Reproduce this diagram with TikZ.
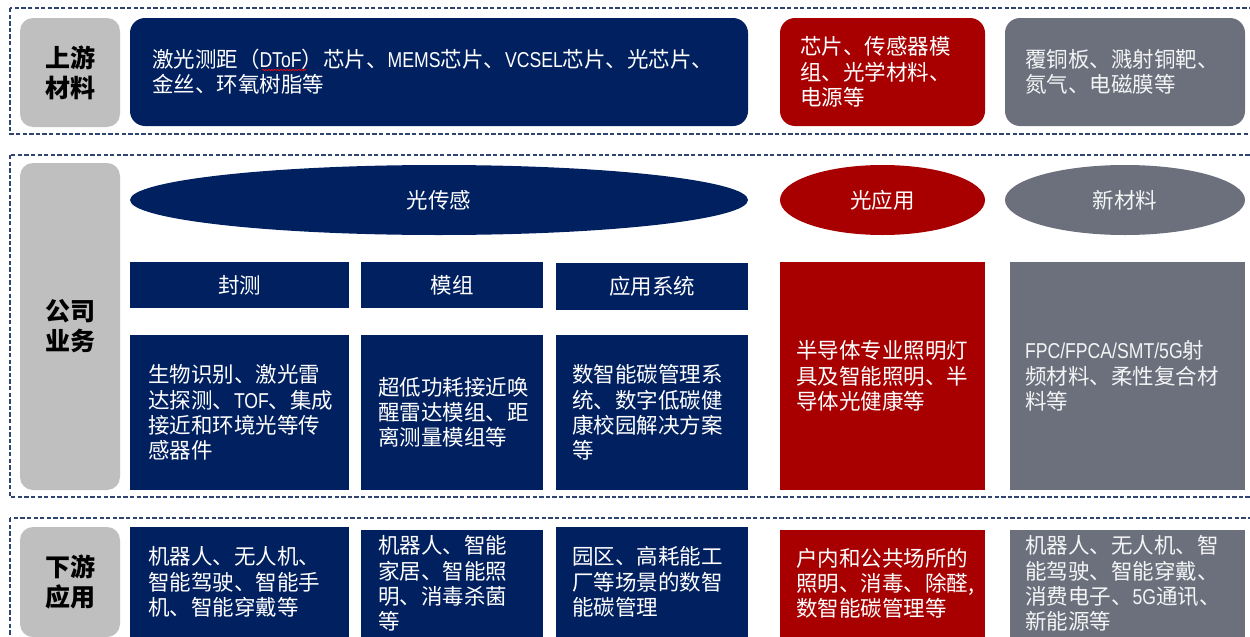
\documentclass[tikz,border=0pt]{standalone}
\usepackage{fontspec}
\setmainfont{Noto Sans CJK SC}
\newfontfamily\latfont[FakeStretch=0.82]{Liberation Sans}
\newcommand\lat[1]{{\latfont #1}}
\usetikzlibrary{shapes.geometric,decorations.pathmorphing}
\definecolor{navy}{HTML}{002060}
\definecolor{dred}{HTML}{A80000}
\definecolor{slate}{HTML}{6C707C}
\definecolor{lgray}{HTML}{BFBFBF}
\definecolor{frm}{HTML}{2F4470}
\tikzset{
  frame/.style={draw=frm, line width=1.2pt, dash pattern=on 4.3pt off 2.3pt},
  lbl/.style={fill=lgray, rounded corners=13pt, inner sep=0pt, align=center,
    font=\fontsize{25}{30}\selectfont\bfseries, text=black},
  shp/.style 2 args={inner sep=0pt, minimum width=#1, minimum height=#2},
  txt/.style={anchor=west, align=left, inner sep=0pt, text=white,
    font=\fontsize{21.5}{25.3}\selectfont},
  ctxt/.style={align=center, inner sep=0pt, text=white,
    font=\fontsize{21.5}{25.3}\selectfont},
}
\begin{document}
\begin{tikzpicture}[x=1pt,y=-1pt]
\clip (0,0) rectangle (1250,637);
\fill[white] (0,0) rectangle (1250,637);
% frames
\draw[frame] (10,8) rectangle (1258,134);
\draw[frame] (10,155) rectangle (1258,497);
\draw[frame] (10,518) rectangle (1258,660);
% labels
\node[lbl, shp={100pt}{109pt}] (lab1) at (70,72.5) {上游\\材料};
\node[lbl, shp={100pt}{327pt}] (lab2) at (70,326.5) {公司\\业务};
\node[lbl, shp={100pt}{110pt}] (lab3) at (70,582) {下游\\应用};
% top row
\node[fill=navy, rounded corners=15pt, shp={618pt}{108pt}] (t1) at (439,72) {};
\node[fill=dred, rounded corners=15pt, shp={205pt}{108pt}] (t2) at (882.5,72) {};
\node[fill=slate, rounded corners=15pt, shp={240pt}{108pt}] (t3) at (1125,72) {};
\node[txt] (t1t) at ([xshift=22pt]t1.west) {激光测距（\lat{DToF}）芯片、\lat{MEMS}芯片、\lat{VCSEL}芯片、光芯片、\\金丝、环氧树脂等};
\node[txt] (t2t) at ([xshift=20pt]t2.west) {芯片、传感器模\\组、光学材料、\\电源等};
\node[txt, text=white!92!slate] (t3t) at ([xshift=20pt]t3.west) {覆铜板、溅射铜靶、\\氮气、电磁膜等};
\draw[red, line width=0.6pt, decorate, decoration={snake, amplitude=0.8pt, segment length=3pt}] (262,70) -- (306,70);
% middle row
\node[ellipse, fill=navy, shp={618pt}{70pt}] (e1) at (439,200) {};
\node[ellipse, fill=dred, shp={205pt}{70pt}] (e2) at (882.5,200) {};
\node[ellipse, fill=slate, shp={240pt}{70pt}] (e3) at (1125,200) {};
\node[ctxt] (e1t) at (e1) {光传感};
\node[ctxt] (e2t) at (e2) {光应用};
\node[ctxt, text=white!92!slate] (e3t) at (e3) {新材料};
\node[fill=navy, shp={219pt}{46pt}] (s1) at (239.5,285) {};
\node[fill=navy, shp={182pt}{46pt}] (s2) at (452,285) {};
\node[fill=navy, shp={192pt}{47pt}] (s3) at (652,286) {};
\node[ctxt] (s1t) at (s1) {封测};
\node[ctxt] (s2t) at (s2) {模组};
\node[ctxt] (s3t) at (s3) {应用系统};
\node[fill=navy, shp={219pt}{155pt}] (d1) at (239.5,412.5) {};
\node[fill=navy, shp={182pt}{155pt}] (d2) at (452,412.5) {};
\node[fill=navy, shp={192pt}{155pt}] (d3) at (652,412.5) {};
\node[fill=dred, shp={205pt}{228pt}] (d4) at (882.5,376) {};
\node[fill=slate, shp={235pt}{228pt}] (d5) at (1127.5,376) {};
\node[txt] (d1t) at ([xshift=18pt]d1.west) {生物识别、激光雷\\达探测、\lat{TOF}、集成\\接近和环境光等传\\感器件};
\node[txt] (d2t) at ([xshift=17pt]d2.west) {超低功耗接近唤\\醒雷达模组、距\\离测量模组等};
\node[txt] (d3t) at ([xshift=16pt]d3.west) {数智能碳管理系\\统、数字低碳健\\康校园解决方案\\等};
\node[txt] (d4t) at ([xshift=16pt]d4.west) {半导体专业照明灯\\具及智能照明、半\\导体光健康等};
\node[txt, text=white!92!slate] (d5t) at ([xshift=15pt]d5.west) {\lat{FPC/FPCA/SMT/5G}射\\频材料、柔性复合材\\料等};
% bottom row
\node[fill=navy, shp={219pt}{110pt}] (b1) at (239.5,582) {};
\node[fill=navy, shp={182pt}{107pt}] (b2) at (452,583.5) {};
\node[fill=navy, shp={192pt}{110pt}] (b3) at (652,582) {};
\node[fill=dred, shp={205pt}{107pt}] (b4) at (882.5,583.5) {};
\node[fill=slate, shp={235pt}{107pt}] (b5) at (1127.5,583.5) {};
\node[txt] (b1t) at ([xshift=18pt]b1.west) {机器人、无人机、\\智能驾驶、智能手\\机、智能穿戴等};
\node[txt] (b2t) at ([xshift=17pt]b2.west) {机器人、智能\\家居、智能照\\明、消毒杀菌\\等};
\node[txt] (b3t) at ([xshift=16pt]b3.west) {园区、高耗能工\\厂等场景的数智\\能碳管理};
\node[txt] (b4t) at ([xshift=16pt]b4.west) {户内和公共场所的\\照明、消毒、除醛,\\数智能碳管理等};
\node[txt, text=white!92!slate] (b5t) at ([xshift=15pt]b5.west) {机器人、无人机、智\\能驾驶、智能穿戴、\\消费电子、\lat{5G}通讯、\\新能源等};
\end{tikzpicture}
\end{document}
